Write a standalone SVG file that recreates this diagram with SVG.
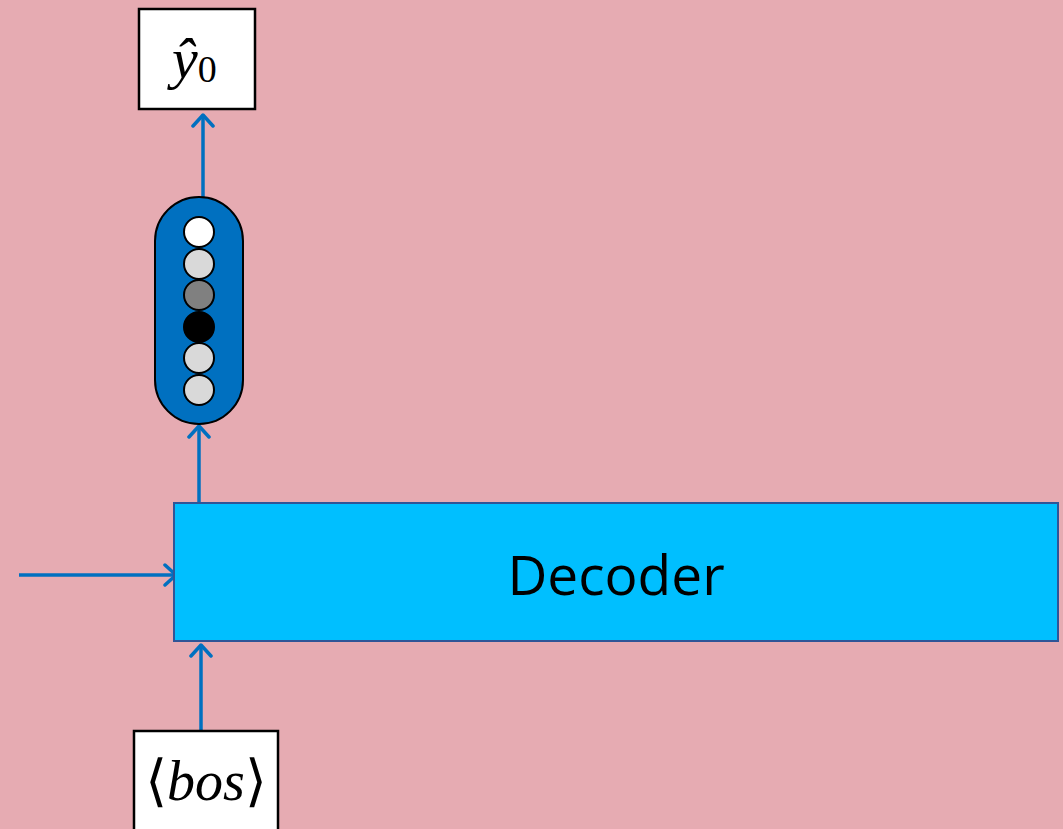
<svg xmlns="http://www.w3.org/2000/svg" width="1063" height="829" viewBox="0 0 1063 829">
<defs>
<style>
.conn{stroke:#0070C0;stroke-width:3.5;fill:none}
.box{fill:#fff;stroke:#000;stroke-width:2.5}
.math{font-family:"Liberation Serif","DejaVu Serif",serif;fill:#000}
.cir{stroke:#000;stroke-width:2}
</style>
<marker id="ah" viewBox="0 0 24 24" refX="20" refY="12" markerWidth="24" markerHeight="24" markerUnits="userSpaceOnUse" orient="auto">
<path d="M9,2 L20,12 L9,22" fill="none" stroke="#0070C0" stroke-width="3.5" stroke-linecap="round" stroke-linejoin="round"/>
</marker>
</defs>
<rect x="0" y="0" width="1063" height="829" fill="#E6ABB2"/>
<g id="connectors">
<line class="conn" x1="203" y1="197" x2="203" y2="115" marker-end="url(#ah)"/>
<line class="conn" x1="199" y1="503" x2="199" y2="426" marker-end="url(#ah)"/>
<line class="conn" x1="19" y1="575" x2="176" y2="575" marker-end="url(#ah)"/>
<line class="conn" x1="201" y1="731" x2="201" y2="645" marker-end="url(#ah)"/>
</g>
<g id="y0">
<rect class="box" x="139" y="9" width="116" height="100"/>
<text class="math" x="172" y="78" font-size="58"><tspan font-style="italic">ŷ</tspan><tspan font-size="38" dy="4">0</tspan></text>
</g>
<g id="softmax">
<rect x="155" y="197" width="88" height="227" rx="44" ry="44" fill="#0070C0" stroke="#000" stroke-width="2"/>
<circle class="cir" cx="199" cy="232" r="15" fill="#FFFFFF"/>
<circle class="cir" cx="199" cy="264" r="15" fill="#D9D9D9"/>
<circle class="cir" cx="199" cy="295" r="15" fill="#808080"/>
<circle class="cir" cx="199" cy="327" r="15" fill="#000000"/>
<circle class="cir" cx="199" cy="358" r="15" fill="#D9D9D9"/>
<circle class="cir" cx="199" cy="390" r="15" fill="#D9D9D9"/>
</g>
<g id="decoder">
<rect x="174" y="503" width="884" height="138" fill="#00BFFF" stroke="#2F5597" stroke-width="2"/>
<text x="616" y="595" font-family="'Open Sans','Liberation Sans',sans-serif" font-size="55" text-anchor="middle" fill="#000">Decoder</text>
</g>
<g id="bos">
<rect class="box" x="134" y="731" width="144" height="110"/>
<text class="math" x="206" y="800" font-size="56" text-anchor="middle"><tspan>⟨</tspan><tspan font-style="italic">bos</tspan><tspan>⟩</tspan></text>
</g>
</svg>
